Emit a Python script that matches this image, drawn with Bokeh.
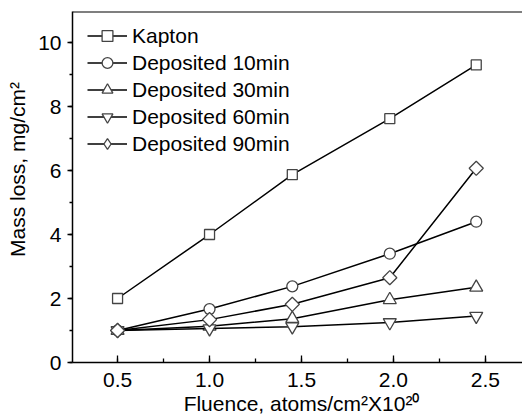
import math
from bokeh.plotting import figure
from bokeh.models import SingleIntervalTicker, NumeralTickFormatter, Span, Legend, LegendItem
from bokeh.embed import file_html
from bokeh.resources import INLINE

# Data
fluence = [0.5, 1.0, 1.45, 1.98, 2.45]
kapton = [2.0, 4.0, 5.87, 7.62, 9.3]
dep10 = [1.0, 1.67, 2.38, 3.40, 4.40]
dep30 = [1.0, 1.13, 1.37, 1.96, 2.35]
dep60 = [1.0, 1.06, 1.12, 1.25, 1.45]
dep90 = [1.0, 1.34, 1.82, 2.65, 6.07]

series = [
    ("Kapton", kapton, "square", 10, 0.0, "square", 10),
    ("Deposited 10min", dep10, "circle", 11, 0.0, "circle", 11),
    ("Deposited 30min", dep30, "triangle", 13, 0.0, "triangle", 13),
    ("Deposited 60min", dep60, "inverted_triangle", 13, 0.0, "inverted_triangle", 13),
    ("Deposited 90min", dep90, "square", 10, math.pi / 4, "diamond", 16),
]

FONT = "Liberation Sans"
FS = "21px"
X0, X1 = 0.255, 2.745
Y0, Y1 = 0, 10.97
OFF = [-100.0]  # legend-only renderers sit outside the visible ranges

p = figure(width=530, height=418, output_backend="svg", toolbar_location=None,
           x_range=(X0, X1), y_range=(Y0, Y1),
           min_border_left=72, min_border_right=0, min_border_top=11, min_border_bottom=56)
p.outline_line_color = None
p.border_fill_color = "white"
p.grid.grid_line_color = None
p.background_fill_color = "white"

items = []
for name, ys, marker, size, ang, lmarker, lsize in series:
    p.line(fluence, ys, line_color="black", line_width=1.5)
    p.scatter(fluence, ys, marker=marker, size=size, angle=ang,
              fill_color="white", line_color="#444444", line_width=1.3)
    l1 = p.line(OFF, OFF, line_color="black", line_width=1.5)
    l2 = p.scatter(OFF, OFF, marker=lmarker, size=lsize,
                   fill_color="white", line_color="#444444", line_width=1.3)
    items.append(LegendItem(label=name, renderers=[l1, l2]))

legend = Legend(items=items, location=(15, 205), margin=0, padding=0, spacing=0,
                glyph_width=40, glyph_height=27, label_height=27, label_standoff=5,
                label_text_font=FONT, label_text_font_size=FS, label_text_color="black",
                background_fill_alpha=0, border_line_color=None)
p.add_layout(legend)

# top border
p.add_layout(Span(location=Y1, dimension="width", line_color="black", line_width=2))

xa = p.xaxis[0]
xa.ticker = SingleIntervalTicker(interval=0.5, num_minor_ticks=2)
xa.formatter = NumeralTickFormatter(format="0.0")
xa.major_tick_in = 7
xa.major_tick_out = 0
xa.minor_tick_in = 4
xa.minor_tick_out = 0
xa.axis_label = "Fluence, atoms/cm\u00b2X10\u00b2\u2070"
xa.major_label_standoff = 10
xa.axis_label_standoff = 2

ya = p.yaxis[0]
ya.ticker = SingleIntervalTicker(interval=2, num_minor_ticks=2)
ya.major_tick_in = 0
ya.major_tick_out = 5
ya.minor_tick_in = 0
ya.minor_tick_out = 3
ya.major_label_standoff = 6
# leading no-break spaces move the visible text a little above the frame centre, as in the reference
ya.axis_label = "\u00a0" * 6 + "Mass loss, mg/cm\u00b2"
ya.axis_label_standoff = 6

for ax in (xa, ya):
    ax.axis_line_width = 1.5
    ax.axis_line_color = "black"
    ax.major_tick_line_width = 1.3
    ax.minor_tick_line_width = 1.3
    ax.major_label_text_font = FONT
    ax.major_label_text_font_size = FS
    ax.major_label_text_color = "black"
    ax.axis_label_text_font = FONT
    ax.axis_label_text_font_size = FS
    ax.axis_label_text_font_style = "normal"
    ax.axis_label_text_color = "black"

open("out.html", "w").write(file_html(p, INLINE))
